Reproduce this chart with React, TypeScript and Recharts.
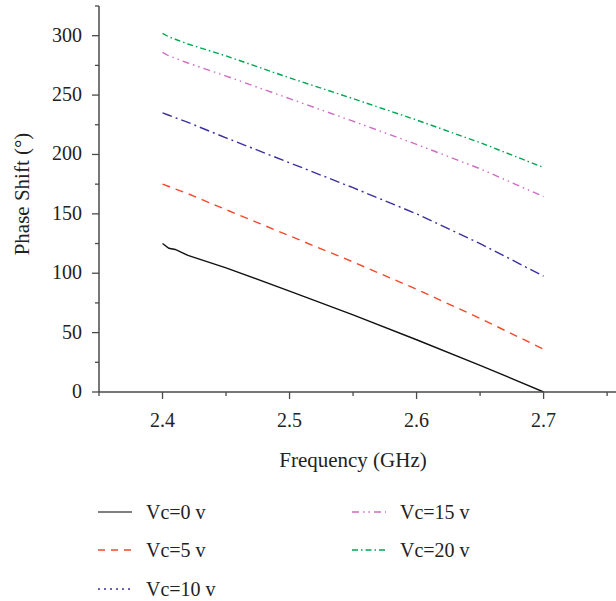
import { LineChart, Line, XAxis, YAxis, Label } from 'recharts'

// Frequency (GHz) and phase shift (°) per control voltage
const freq = [2.4, 2.405, 2.41, 2.42, 2.45, 2.5, 2.55, 2.6, 2.65, 2.7]
const vc0 = [125, 121, 120, 115, 104.5, 85, 65, 44, 22.5, 0]
const vc5 = [175, 173, 171, 167, 153.5, 131.5, 109.5, 86.5, 62, 36]
const vc10 = [235, 233, 231, 227, 214, 193, 172, 150, 125, 97.5]
const vc15 = [286, 283, 281, 277, 266, 247, 228, 208.5, 188, 164.5]
const vc20 = [302, 299, 297, 293, 283, 264.5, 247, 229, 210, 189]

const xTicks = [2.35, 2.4, 2.45, 2.5, 2.55, 2.6, 2.65, 2.7, 2.75]
const yTicks = [0, 25, 50, 75, 100, 125, 150, 175, 200, 225, 250, 275, 300, 325]

const SERIES = [
  { key: 'vc0', name: 'Vc=0 v', color: '#111111', legendColor: '#555555', dash: undefined, legendDash: undefined },
  { key: 'vc5', name: 'Vc=5 v', color: '#F2492A', legendColor: '#F2492A', dash: '8 6', legendDash: '7 6' },
  { key: 'vc10', name: 'Vc=10 v', color: '#3B2F9E', legendColor: '#3B2F9E', dash: '10 4 2 4', legendDash: '2 4' },
  { key: 'vc15', name: 'Vc=15 v', color: '#D16CC2', legendColor: '#D16CC2', dash: '7 4 1.5 4 1.5 4', legendDash: '7 4 1.5 4 1.5 4' },
  { key: 'vc20', name: 'Vc=20 v', color: '#00A650', legendColor: '#00A650', dash: '6 3 1.5 3', legendDash: '6 3 1.5 3' },
]

const data = freq.map((f, i) => ({
  f, vc0: vc0[i], vc5: vc5[i], vc10: vc10[i], vc15: vc15[i], vc20: vc20[i],
}))

const AXIS = '#4a4a4a'
const FONT = '"Liberation Serif", "DejaVu Serif", serif'
const TEXT = '#222222'

function XTick({ x, y, payload }: any) {
  const v = payload.value as number
  const major = Math.round(v * 100) % 10 === 0
  return (
    <g>
      <line x1={x} x2={x} y1={y} y2={y + (major ? 7 : 4)} stroke={AXIS} strokeWidth={1.3} />
      {major && (
        <text x={x} y={y + 35} textAnchor="middle" fontSize={20} fontFamily={FONT} fill={TEXT}>
          {v.toFixed(1)}
        </text>
      )}
    </g>
  )
}

function YTick({ x, y, payload }: any) {
  const v = payload.value as number
  const major = v % 50 === 0
  return (
    <g>
      <line x1={x} x2={x - (major ? 7 : 4)} y1={y} y2={y} stroke={AXIS} strokeWidth={1.3} />
      {major && (
        <text x={x - 17} y={y + 6} textAnchor="end" fontSize={20} fontFamily={FONT} fill={TEXT}>
          {v}
        </text>
      )}
    </g>
  )
}

function LegendItem({ s, left, top }: { s: typeof SERIES[number]; left: number; top: number }) {
  return (
    <div style={{ position: 'absolute', left, top, height: 24, display: 'flex', alignItems: 'center' }}>
      <svg width={36} height={6} style={{ display: 'block' }}>
        <line x1={0} x2={34} y1={3} y2={3} stroke={s.legendColor} strokeWidth={1.6} strokeDasharray={s.legendDash} />
      </svg>
      <span style={{ marginLeft: 12, fontSize: 20, fontFamily: FONT, color: TEXT, lineHeight: '24px' }}>{s.name}</span>
    </div>
  )
}

export default function App() {
  return (
    <div style={{ position: 'absolute', left: 0, top: 0, width: 616, height: 601, background: '#fff' }}>
      <LineChart width={616} height={601} data={data} margin={{ top: 6, right: 0, left: 0, bottom: 0 }}>
        <XAxis
          dataKey="f"
          type="number"
          domain={[2.35, 2.757]}
          allowDataOverflow
          ticks={xTicks}
          interval={0}
          tick={<XTick />}
          tickSize={0}
          tickMargin={0}
          tickLine={false}
          height={209}
          axisLine={{ stroke: AXIS, strokeWidth: 1.5 }}
        >
          <Label
            content={() => (
              <text x={353} y={467} textAnchor="middle" fontSize={21} fontFamily={FONT} fill={TEXT}>
                Frequency (GHz)
              </text>
            )}
          />
        </XAxis>
        <YAxis
          type="number"
          domain={[0, 325]}
          allowDataOverflow
          ticks={yTicks}
          interval={0}
          tick={<YTick />}
          tickSize={0}
          tickMargin={0}
          tickLine={false}
          width={99}
          axisLine={{ stroke: AXIS, strokeWidth: 1.5 }}
        >
          <Label
            content={() => (
              <text
                x={29}
                y={194}
                textAnchor="middle"
                fontSize={21}
                fontFamily={FONT}
                fill={TEXT}
                transform="rotate(-90 29 194)"
              >
                Phase Shift (°)
              </text>
            )}
          />
        </YAxis>
        {SERIES.map(s => (
          <Line
            key={s.key}
            type="linear"
            dataKey={s.key}
            name={s.name}
            stroke={s.color}
            strokeWidth={1.4}
            strokeDasharray={s.dash}
            dot={false}
            activeDot={false}
            isAnimationActive={false}
          />
        ))}
      </LineChart>
      <LegendItem s={SERIES[0]} left={98} top={500} />
      <LegendItem s={SERIES[1]} left={98} top={538} />
      <LegendItem s={SERIES[2]} left={98} top={577} />
      <LegendItem s={SERIES[3]} left={352} top={500} />
      <LegendItem s={SERIES[4]} left={352} top={538} />
    </div>
  )
}
